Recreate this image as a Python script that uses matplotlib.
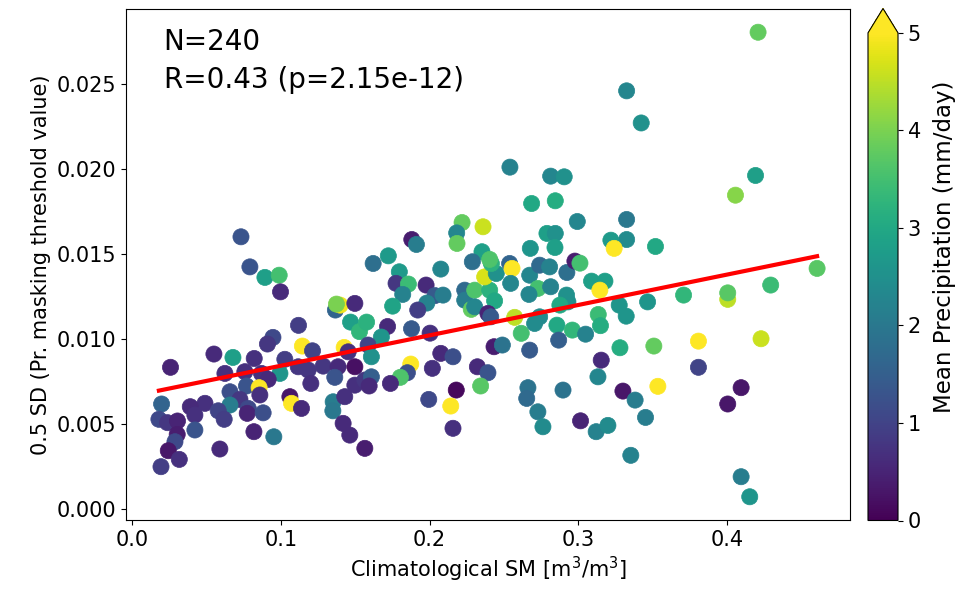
import numpy as np
import matplotlib
matplotlib.use("Agg")
import matplotlib.pyplot as plt

# Climatological soil moisture (m3/m3)
sm = [
    0.0731, 0.0791, 0.0892, 0.0988, 0.0997, 0.1366, 0.1398, 0.1373, 0.1497, 0.1468,
    0.1528, 0.1576, 0.1118, 0.0946, 0.0909, 0.1144, 0.1212, 0.1425, 0.1452, 0.0549,
    0.0677, 0.0820, 0.1026, 0.0257, 0.0623, 0.0757, 0.0869, 0.0993, 0.1116, 0.1183,
    0.1284, 0.1384, 0.1497, 0.1362, 0.1201, 0.0914, 0.0768, 0.0853, 0.0657, 0.0724,
    0.0858, 0.0657, 0.0780, 0.0773, 0.0880, 0.1060, 0.1071, 0.1138, 0.0489, 0.0390,
    0.0421, 0.0578, 0.0618, 0.0197, 0.0179, 0.0237, 0.0304, 0.0302, 0.0287, 0.0242,
    0.0316, 0.0193, 0.0421, 0.0589, 0.0818, 0.0952, 0.1351, 0.1349, 0.1429, 0.1497,
    0.1564, 0.1418, 0.1463, 0.1564,
    0.1620, 0.1722, 0.1796, 0.1774, 0.1857, 0.1819, 0.1976, 0.2036, 0.2090, 0.1981,
    0.1920, 0.1751, 0.1717, 0.1878, 0.2003, 0.1675, 0.1586, 0.1608, 0.1873, 0.1850,
    0.1803, 0.1736, 0.1608, 0.1593, 0.2075, 0.2157, 0.2018, 0.2321, 0.2392, 0.2343,
    0.2179, 0.2142, 0.1994, 0.2157, 0.2433, 0.2489, 0.2673, 0.2661, 0.2653, 0.2728,
    0.2762, 0.2897, 0.3015, 0.3120, 0.3132, 0.3154, 0.3199,
    0.2236, 0.2236, 0.2303, 0.2280, 0.2303, 0.2404, 0.2437, 0.2370, 0.2392, 0.2411,
    0.2448, 0.2415, 0.2538, 0.2554, 0.2545, 0.2673, 0.2728, 0.2668, 0.2814, 0.2740,
    0.2807, 0.2923, 0.2977, 0.3011, 0.3089, 0.3179, 0.3145, 0.2921, 0.2930, 0.2876,
    0.2572, 0.2616, 0.2740, 0.2706, 0.2856, 0.2960, 0.3049, 0.2868, 0.3134, 0.3149,
    0.2540, 0.2814, 0.2905, 0.2686, 0.2845, 0.2993, 0.2218, 0.2359, 0.2182, 0.2184,
    0.1880, 0.1911, 0.2789, 0.2845, 0.2677, 0.2843, 0.2352, 0.2404, 0.2287, 0.2075,
    0.4209, 0.3325, 0.3423, 0.4192, 0.4057, 0.3325, 0.3325, 0.3219, 0.3241, 0.3519,
    0.4606, 0.4294, 0.4005, 0.4005, 0.3708, 0.3466, 0.3275, 0.3322, 0.3808, 0.4229,
    0.3508, 0.3280, 0.3808, 0.3535, 0.3300, 0.3382, 0.3452, 0.4095, 0.4005, 0.3353,
    0.4095, 0.4153,
]

# 0.5 SD of precipitation masking threshold
sd = [
    0.01602, 0.01425, 0.01363, 0.01376, 0.01278, 0.01171, 0.01200, 0.01206, 0.01210, 0.01100,
    0.01044, 0.01100, 0.01081, 0.01010, 0.00971, 0.00959, 0.00931, 0.00951, 0.00925, 0.00912,
    0.00892, 0.00886, 0.00881, 0.00834, 0.00798, 0.00808, 0.00798, 0.00798, 0.00837, 0.00818,
    0.00841, 0.00837, 0.00837, 0.00775, 0.00739, 0.00763, 0.00724, 0.00714, 0.00690, 0.00645,
    0.00671, 0.00612, 0.00592, 0.00563, 0.00566, 0.00661, 0.00622, 0.00592, 0.00622, 0.00602,
    0.00553, 0.00578, 0.00528, 0.00618, 0.00528, 0.00508, 0.00518, 0.00439, 0.00396, 0.00343,
    0.00292, 0.00249, 0.00465, 0.00353, 0.00455, 0.00425, 0.00631, 0.00578, 0.00661, 0.00729,
    0.00759, 0.00504, 0.00435, 0.00357,
    0.01445, 0.01490, 0.01396, 0.01328, 0.01324, 0.01263, 0.01318, 0.01256, 0.01259, 0.01212,
    0.01171, 0.01194, 0.01074, 0.01061, 0.01035, 0.01012, 0.00965, 0.00896, 0.00853, 0.00802,
    0.00775, 0.00739, 0.00778, 0.00724, 0.00916, 0.00896, 0.00828, 0.00837, 0.00802, 0.00724,
    0.00700, 0.00606, 0.00645, 0.00475, 0.00955, 0.00965, 0.00935, 0.00714, 0.00651, 0.00572,
    0.00484, 0.00700, 0.00519, 0.00455, 0.00778, 0.00876, 0.00492,
    0.01288, 0.01229, 0.01288, 0.01175, 0.01190, 0.01288, 0.01225, 0.01366, 0.01151, 0.01131,
    0.01386, 0.01445, 0.01445, 0.01416, 0.01328, 0.01376, 0.01298, 0.01263, 0.01308, 0.01435,
    0.01425, 0.01392, 0.01459, 0.01447, 0.01341, 0.01341, 0.01288, 0.01259, 0.01219, 0.01200,
    0.01128, 0.01034, 0.01131, 0.01092, 0.01082, 0.01053, 0.01029, 0.00994, 0.01145, 0.01079,
    0.02012, 0.01959, 0.01955, 0.01798, 0.01814, 0.01692, 0.01686, 0.01661, 0.01625, 0.01563,
    0.01586, 0.01557, 0.01622, 0.01622, 0.01534, 0.01539, 0.01514, 0.01469, 0.01455, 0.01412,
    0.02806, 0.02461, 0.02272, 0.01963, 0.01847, 0.01704, 0.01586, 0.01582, 0.01534, 0.01545,
    0.01416, 0.01318, 0.01234, 0.01272, 0.01259, 0.01219, 0.01200, 0.01135, 0.00988, 0.01002,
    0.00959, 0.00949, 0.00834, 0.00722, 0.00694, 0.00641, 0.00539, 0.00714, 0.00618, 0.00316,
    0.00190, 0.00072,
]

# Mean precipitation (mm/day)
precip = [
    1.3, 1.3, 2.8, 3.5, 0.6, 1.6, 4.9, 4.0, 0.6, 2.8,
    3.3, 3.2, 0.9, 1.1, 0.8, 5.0, 1.0, 5.0, 0.7, 0.6,
    2.8, 0.7, 0.9, 0.5, 0.7, 0.7, 0.7, 2.6, 0.8, 0.8,
    0.8, 0.6, 0.2, 1.3, 0.7, 0.6, 1.3, 5.0, 1.2, 0.8,
    0.7, 2.1, 1.1, 0.5, 1.2, 0.3, 5.0, 0.6, 0.7, 0.6,
    0.7, 1.0, 0.9, 1.6, 1.1, 0.8, 0.5, 0.4, 1.1, 0.3,
    0.7, 0.9, 1.3, 0.6, 0.5, 2.0, 2.1, 2.0, 0.7, 0.7,
    0.8, 0.6, 0.6, 0.4,
    1.8, 2.7, 2.7, 0.8, 3.4, 2.2, 0.6, 1.4, 2.1, 2.2,
    0.9, 2.9, 0.6, 1.4, 0.7, 2.6, 1.0, 2.5, 5.0, 1.2,
    3.6, 0.6, 1.5, 0.6, 0.6, 1.2, 0.7, 0.6, 1.3, 3.7,
    0.1, 5.0, 1.1, 0.7, 0.4, 1.9, 1.4, 1.9, 1.7, 2.1,
    2.4, 1.9, 0.5, 2.2, 2.3, 0.6, 2.4,
    1.7, 2.1, 3.6, 3.8, 2.3, 3.2, 3.0, 4.7, 0.5, 1.4,
    2.5, 3.2, 1.6, 5.0, 2.3, 2.3, 3.5, 2.3, 2.2, 1.7,
    2.2, 1.8, 0.4, 3.5, 2.8, 2.8, 5.0, 2.5, 2.5, 3.0,
    4.5, 3.5, 2.4, 2.4, 3.0, 3.3, 2.2, 1.5, 3.4, 3.1,
    2.2, 2.3, 2.5, 3.0, 3.1, 2.3, 3.8, 4.6, 2.3, 3.8,
    0.4, 2.1, 2.8, 2.5, 2.6, 2.8, 2.8, 3.6, 1.8, 2.3,
    3.8, 2.3, 2.5, 2.8, 4.1, 2.0, 2.4, 2.7, 5.0, 3.0,
    3.7, 3.4, 4.5, 3.7, 3.3, 2.6, 2.6, 2.6, 5.0, 4.6,
    3.8, 3.1, 1.0, 5.0, 0.3, 2.1, 2.1, 0.3, 0.3, 2.2,
    2.1, 2.6,
]

stats_text = "N=240\nR=0.43 (p=2.15e-12)"

sm = np.array(sm)
sd = np.array(sd)
precip = np.array(precip)

fig = plt.figure(figsize=(9.6, 6.01), dpi=100)
ax = fig.add_axes([126 / 960, 81 / 601, 724 / 960, 511 / 601])
cax = fig.add_axes([868 / 960, 80.5 / 601, 30 / 960, 512 / 601])

sc = ax.scatter(sm, sd, c=precip, cmap="viridis", vmin=0, vmax=5, s=135,
                edgecolors="face", linewidths=0.5, zorder=2)

slope, intercept = np.polyfit(sm, sd, 1)
xl = np.array([sm.min(), sm.max()])
ax.plot(xl, slope * xl + intercept, color="red", lw=3, zorder=3)

ax.text(0.052, 0.963, stats_text, transform=ax.transAxes, fontsize=20,
        va="top", ha="left", linespacing=1.44)

ax.set_xlabel("Climatological SM [m$^3$/m$^3$]", fontsize=15)
ax.set_ylabel("0.5 SD (Pr. masking threshold value)", fontsize=15)
ax.tick_params(labelsize=15)
ax.set_xticks([0.0, 0.1, 0.2, 0.3, 0.4])
ax.set_yticks([0.000, 0.005, 0.010, 0.015, 0.020, 0.025])

cb = fig.colorbar(sc, cax=cax, extend="max")
cb.set_label("Mean Precipitation (mm/day)", fontsize=16.5, labelpad=9)
cb.ax.yaxis.label.set_y(0.561)
cb.ax.tick_params(labelsize=15)
cb.set_ticks([0, 1, 2, 3, 4, 5])

fig.savefig("out.png", dpi=100)
